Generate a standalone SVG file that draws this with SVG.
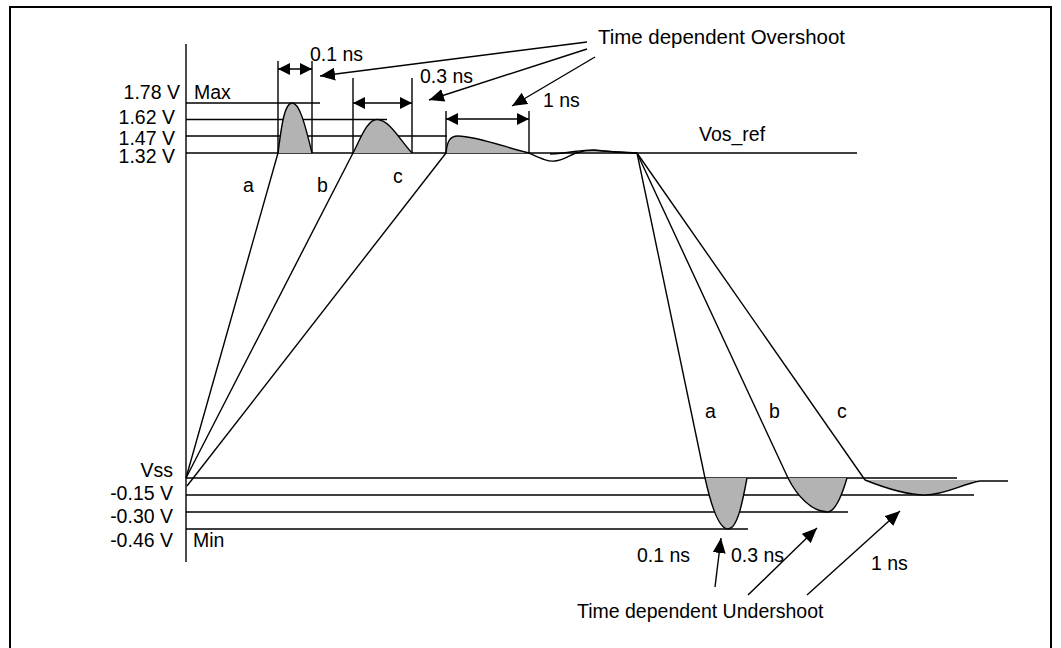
<svg xmlns="http://www.w3.org/2000/svg" width="1061" height="648" viewBox="0 0 1061 648">
<defs>
<marker id="ah" markerUnits="userSpaceOnUse" markerWidth="15" markerHeight="13" refX="15" refY="6.5" orient="auto">
<path d="M0,0 L15,6.5 L0,13 z" fill="#000"/>
</marker>
<marker id="dh" markerUnits="userSpaceOnUse" markerWidth="12" markerHeight="12" refX="12" refY="6" orient="auto-start-reverse">
<path d="M0,0 L12,6 L0,12 z" fill="#000"/>
</marker>
</defs>
<style>
.ln{stroke:#000;stroke-width:1.4;fill:none}
.sh{fill:#b3b3b3;stroke:none}
.cv{stroke:#000;stroke-width:1.4;fill:none}
.ar{stroke:#000;stroke-width:1.4;fill:none;marker-end:url(#ah)}
.da{stroke:#000;stroke-width:1.4;fill:none;marker-start:url(#dh);marker-end:url(#dh)}
text{font-family:"Liberation Sans",Arial,sans-serif;font-size:19.5px;fill:#000}
.r{text-anchor:end}
</style>
<rect x="0" y="0" width="1061" height="648" fill="#fff"/>
<g id="frame">
<path d="M10,660 L10,7 L1051,7 L1051,660" fill="none" stroke="#000" stroke-width="2"/>
</g>
<g id="axis">
<line class="ln" x1="186" y1="44" x2="186" y2="562"/>
</g>
<g id="levels">
<line class="ln" x1="186" y1="103" x2="320" y2="103"/>
<line class="ln" x1="186" y1="119.5" x2="387" y2="119.5"/>
<line class="ln" x1="186" y1="136" x2="447" y2="136"/>
<line class="ln" x1="186" y1="153" x2="857" y2="153"/>
<line class="ln" x1="186" y1="478" x2="957" y2="478"/>
<line class="ln" x1="186" y1="495" x2="974" y2="495"/>
<line class="ln" x1="186" y1="512" x2="848" y2="512"/>
<line class="ln" x1="186" y1="529" x2="748" y2="529"/>
</g>
<g id="overshoot-pulses">
<path class="sh" d="M278,153 C281,130 284,103 292,103 C299,103 304,120 312,153 Z"/>
<path class="cv" d="M278,153 C281,130 284,103 292,103 C299,103 304,120 312,153"/>
<path class="sh" d="M353,153 C360,140 367,119.5 377,119.5 C389,119.5 400,140 412,153 Z"/>
<path class="cv" d="M353,153 C360,140 367,119.5 377,119.5 C389,119.5 400,140 412,153"/>
<path class="sh" d="M446,153 C447,143 449,136 458,136 C475,136 505,147 529,153 Z"/>
<path class="cv" d="M446,153 C447,143 449,136 458,136 C475,136 505,147 529,153"/>
</g>
<g id="edges">
<line class="ln" x1="186" y1="478" x2="278" y2="153"/>
<line class="ln" x1="186" y1="478" x2="353" y2="153"/>
<line class="ln" x1="187" y1="486" x2="446" y2="153"/>
<path class="cv" d="M529,153 C540,158 548,162 555,161 C565,160 572,153 580,152 C590,149 600,151 620,152 L637,153"/>
<path class="cv" d="M550,154 C570,153 585,149 595,150 C610,152 625,153 637,153"/>
<line class="ln" x1="637" y1="153" x2="705" y2="478"/>
<line class="ln" x1="637" y1="153" x2="788" y2="478"/>
<line class="ln" x1="637" y1="153" x2="865" y2="480"/>
</g>
<g id="undershoot-pulses">
<path class="sh" d="M705,478 C711,505 719,529 728,529 C737,529 742,505 747,478 Z"/>
<path class="cv" d="M705,478 C711,505 719,529 728,529 C737,529 742,505 747,478"/>
<path class="sh" d="M788,478 C797,496 812,512 828,512 C836,511 842,495 847,478 Z"/>
<path class="cv" d="M788,478 C797,496 812,512 828,512 C836,511 842,495 847,478"/>
<path class="sh" d="M865,480 C880,486 905,495 925,495 C945,495 962,486 978,480 Z"/>
<path class="cv" d="M865,480 C880,486 905,495 925,495 C945,495 962,484 980,481 L1008,481"/>
</g>
<g id="dimensions">
<line class="ln" x1="278" y1="61" x2="278" y2="153"/>
<line class="ln" x1="312" y1="61" x2="312" y2="153"/>
<line class="da" x1="278" y1="69" x2="312" y2="69"/>
<line class="ln" x1="353" y1="78" x2="353" y2="153"/>
<line class="ln" x1="412" y1="78" x2="412" y2="153"/>
<line class="da" x1="353" y1="103" x2="412" y2="103"/>
<line class="ln" x1="446" y1="111" x2="446" y2="153"/>
<line class="ln" x1="529" y1="111" x2="529" y2="153"/>
<line class="da" x1="446" y1="119" x2="529" y2="119"/>
</g>
<g id="connectors">
<line class="ar" x1="587" y1="42" x2="320" y2="76"/>
<line class="ar" x1="587" y1="49" x2="429" y2="100"/>
<line class="ar" x1="595" y1="57" x2="512" y2="106"/>
<line class="ar" x1="715" y1="587" x2="721" y2="538"/>
<line class="ar" x1="748" y1="595" x2="817" y2="528"/>
<line class="ar" x1="807" y1="595" x2="900" y2="511"/>
</g>
<g id="labels">
<text class="r" x="180" y="99">1.78 V</text>
<text x="194" y="99">Max</text>
<text class="r" x="175" y="123.5">1.62 V</text>
<text class="r" x="175" y="144.5">1.47 V</text>
<text class="r" x="175" y="163">1.32 V</text>
<text class="r" x="173" y="477">Vss</text>
<text class="r" x="173" y="500">-0.15 V</text>
<text class="r" x="173" y="523">-0.30 V</text>
<text class="r" x="173" y="547">-0.46 V</text>
<text x="193" y="547">Min</text>
<text x="310" y="61">0.1 ns</text>
<text x="420" y="83">0.3 ns</text>
<text x="543" y="107">1 ns</text>
<text x="598" y="44" textLength="247" lengthAdjust="spacingAndGlyphs">Time dependent Overshoot</text>
<text x="699" y="141">Vos_ref</text>
<text x="243" y="192">a</text>
<text x="317" y="192">b</text>
<text x="393" y="183">c</text>
<text x="705" y="418">a</text>
<text x="769" y="418">b</text>
<text x="837" y="418">c</text>
<text x="637" y="562">0.1 ns</text>
<text x="731" y="562">0.3 ns</text>
<text x="871" y="570">1 ns</text>
<text x="577" y="618">Time dependent Undershoot</text>
</g>
</svg>
